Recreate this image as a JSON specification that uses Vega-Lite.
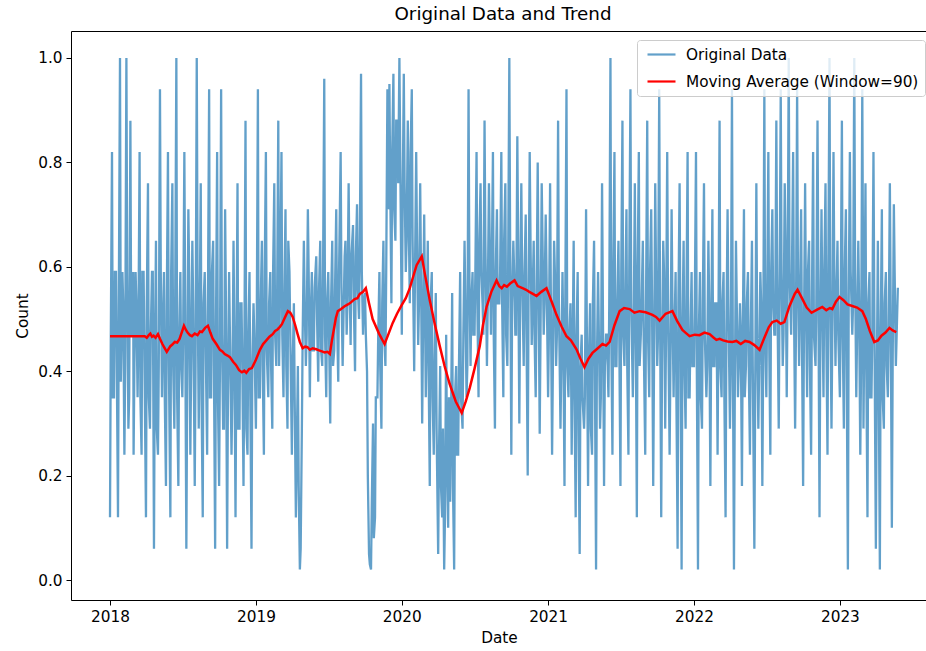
{
"$schema": "https://vega.github.io/schema/vega-lite/v6.json",
"width": 856,
"height": 569,
"autosize": {"type": "none"},
"padding": {"left": 71, "top": 31, "right": 0, "bottom": 51},
"background": "white",
"title": {"text": "Original Data and Trend", "fontSize": 18.3, "fontWeight": "normal", "font": "DejaVu Sans", "color": "#000", "anchor": "middle", "dx": 4, "offset": 7},
"config": {
  "view": {"stroke": "#000", "strokeWidth": 1},
  "axis": {"labelFont": "DejaVu Sans", "titleFont": "DejaVu Sans", "labelFontSize": 15.3, "titleFontSize": 15.3, "labelColor": "#000", "titleColor": "#000", "titleFontWeight": "normal", "tickColor": "#000", "tickSize": 5, "labelPadding": 4, "grid": false, "domain": false}
},
"datasets": {
"orig": [
{"date":"2018-01-01","count":0.12},{"date":"2018-01-06","count":0.82},{"date":"2018-01-11","count":0.35},{"date":"2018-01-16","count":0.59},{"date":"2018-01-21","count":0.12},{"date":"2018-01-26","count":1.0},
{"date":"2018-02-01","count":0.59},{"date":"2018-02-06","count":0.24},{"date":"2018-02-11","count":1.0},{"date":"2018-02-16","count":0.29},{"date":"2018-02-21","count":0.88},{"date":"2018-02-26","count":0.47},
{"date":"2018-03-01","count":0.24},{"date":"2018-03-06","count":0.59},{"date":"2018-03-11","count":0.35},{"date":"2018-03-16","count":0.82},{"date":"2018-03-21","count":0.24},{"date":"2018-03-26","count":0.59},
{"date":"2018-04-01","count":0.12},{"date":"2018-04-06","count":0.76},{"date":"2018-04-11","count":0.29},{"date":"2018-04-16","count":0.59},{"date":"2018-04-21","count":0.06},{"date":"2018-04-26","count":0.65},
{"date":"2018-05-01","count":0.24},{"date":"2018-05-06","count":0.94},{"date":"2018-05-11","count":0.35},{"date":"2018-05-16","count":0.59},{"date":"2018-05-21","count":0.18},{"date":"2018-05-26","count":0.82},
{"date":"2018-06-01","count":0.12},{"date":"2018-06-06","count":0.76},{"date":"2018-06-11","count":0.29},{"date":"2018-06-16","count":1.0},{"date":"2018-06-21","count":0.18},{"date":"2018-06-26","count":0.59},
{"date":"2018-07-01","count":0.35},{"date":"2018-07-06","count":0.82},{"date":"2018-07-11","count":0.06},{"date":"2018-07-16","count":0.71},{"date":"2018-07-21","count":0.24},{"date":"2018-07-26","count":0.65},
{"date":"2018-08-01","count":0.18},{"date":"2018-08-06","count":1.0},{"date":"2018-08-11","count":0.29},{"date":"2018-08-16","count":0.76},{"date":"2018-08-21","count":0.12},{"date":"2018-08-26","count":0.59},
{"date":"2018-09-01","count":0.24},{"date":"2018-09-06","count":0.94},{"date":"2018-09-11","count":0.35},{"date":"2018-09-16","count":0.65},{"date":"2018-09-21","count":0.06},{"date":"2018-09-26","count":0.82},
{"date":"2018-10-01","count":0.18},{"date":"2018-10-06","count":0.94},{"date":"2018-10-11","count":0.29},{"date":"2018-10-16","count":0.71},{"date":"2018-10-21","count":0.06},{"date":"2018-10-26","count":0.59},
{"date":"2018-11-01","count":0.24},{"date":"2018-11-06","count":0.65},{"date":"2018-11-11","count":0.12},{"date":"2018-11-16","count":0.76},{"date":"2018-11-21","count":0.29},{"date":"2018-11-26","count":0.53},
{"date":"2018-12-01","count":0.18},{"date":"2018-12-06","count":0.88},{"date":"2018-12-11","count":0.24},{"date":"2018-12-16","count":0.59},{"date":"2018-12-21","count":0.06},{"date":"2018-12-26","count":0.53},
{"date":"2019-01-01","count":0.29},{"date":"2019-01-06","count":0.94},{"date":"2019-01-11","count":0.35},{"date":"2019-01-16","count":0.65},{"date":"2019-01-21","count":0.24},{"date":"2019-01-26","count":0.82},
{"date":"2019-02-01","count":0.35},{"date":"2019-02-06","count":0.59},{"date":"2019-02-11","count":0.29},{"date":"2019-02-16","count":0.76},{"date":"2019-02-21","count":0.41},{"date":"2019-02-26","count":0.88},
{"date":"2019-03-01","count":0.47},{"date":"2019-03-06","count":0.82},{"date":"2019-03-11","count":0.35},{"date":"2019-03-16","count":0.71},{"date":"2019-03-21","count":0.29},{"date":"2019-03-26","count":0.59},
{"date":"2019-04-01","count":0.24},{"date":"2019-04-06","count":0.53},{"date":"2019-04-11","count":0.12},{"date":"2019-04-16","count":0.41},{"date":"2019-04-21","count":0.02},{"date":"2019-04-26","count":0.29},
{"date":"2019-05-01","count":0.65},{"date":"2019-05-06","count":0.41},{"date":"2019-05-11","count":0.71},{"date":"2019-05-16","count":0.35},{"date":"2019-05-21","count":0.59},{"date":"2019-05-26","count":0.44},
{"date":"2019-06-01","count":0.62},{"date":"2019-06-06","count":0.38},{"date":"2019-06-11","count":0.65},{"date":"2019-06-16","count":0.41},{"date":"2019-06-21","count":0.96},{"date":"2019-06-26","count":0.35},
{"date":"2019-07-01","count":0.59},{"date":"2019-07-06","count":0.30},{"date":"2019-07-11","count":0.65},{"date":"2019-07-16","count":0.44},{"date":"2019-07-21","count":0.71},{"date":"2019-07-26","count":0.38},
{"date":"2019-08-01","count":0.82},{"date":"2019-08-06","count":0.41},{"date":"2019-08-11","count":0.62},{"date":"2019-08-16","count":0.47},{"date":"2019-08-21","count":0.76},{"date":"2019-08-26","count":0.45},
{"date":"2019-09-01","count":0.68},{"date":"2019-09-06","count":0.40},{"date":"2019-09-11","count":0.72},{"date":"2019-09-16","count":0.50},{"date":"2019-09-21","count":0.97},{"date":"2019-09-26","count":0.47},
{"date":"2019-10-01","count":0.55},{"date":"2019-10-06","count":0.40},{"date":"2019-10-11","count":0.05},{"date":"2019-10-16","count":0.02},{"date":"2019-10-21","count":0.30},{"date":"2019-10-26","count":0.12},
{"date":"2019-11-01","count":0.35},{"date":"2019-11-06","count":0.59},{"date":"2019-11-11","count":0.29},{"date":"2019-11-16","count":0.65},{"date":"2019-11-21","count":0.41},{"date":"2019-11-26","count":0.94},
{"date":"2019-12-01","count":0.95},{"date":"2019-12-06","count":0.53},{"date":"2019-12-11","count":0.97},{"date":"2019-12-16","count":0.65},{"date":"2019-12-21","count":0.88},{"date":"2019-12-26","count":1.0},
{"date":"2020-01-01","count":0.47},{"date":"2020-01-06","count":0.97},{"date":"2020-01-11","count":0.59},{"date":"2020-01-16","count":0.88},{"date":"2020-01-21","count":0.53},{"date":"2020-01-26","count":0.94},
{"date":"2020-02-01","count":0.40},{"date":"2020-02-06","count":0.82},{"date":"2020-02-11","count":0.45},{"date":"2020-02-16","count":0.76},{"date":"2020-02-21","count":0.30},{"date":"2020-02-26","count":0.70},
{"date":"2020-03-01","count":0.35},{"date":"2020-03-06","count":0.65},{"date":"2020-03-11","count":0.18},{"date":"2020-03-16","count":0.59},{"date":"2020-03-21","count":0.24},{"date":"2020-03-26","count":0.55},
{"date":"2020-04-01","count":0.05},{"date":"2020-04-06","count":0.41},{"date":"2020-04-11","count":0.12},{"date":"2020-04-16","count":0.02},{"date":"2020-04-21","count":0.47},{"date":"2020-04-26","count":0.10},
{"date":"2020-05-01","count":0.15},{"date":"2020-05-06","count":0.55},{"date":"2020-05-11","count":0.02},{"date":"2020-05-16","count":0.41},{"date":"2020-05-21","count":0.24},{"date":"2020-05-26","count":0.59},
{"date":"2020-06-01","count":0.29},{"date":"2020-06-06","count":0.65},{"date":"2020-06-11","count":0.35},{"date":"2020-06-16","count":0.94},{"date":"2020-06-21","count":0.41},{"date":"2020-06-26","count":0.59},
{"date":"2020-07-01","count":0.47},{"date":"2020-07-06","count":0.82},{"date":"2020-07-11","count":0.35},{"date":"2020-07-16","count":0.76},{"date":"2020-07-21","count":0.53},{"date":"2020-07-26","count":0.88},
{"date":"2020-08-01","count":0.41},{"date":"2020-08-06","count":0.76},{"date":"2020-08-11","count":0.47},{"date":"2020-08-16","count":0.82},{"date":"2020-08-21","count":0.29},{"date":"2020-08-26","count":0.71},
{"date":"2020-09-01","count":0.53},{"date":"2020-09-06","count":0.82},{"date":"2020-09-11","count":0.35},{"date":"2020-09-16","count":0.76},{"date":"2020-09-21","count":0.41},{"date":"2020-09-26","count":1.0},
{"date":"2020-10-01","count":0.24},{"date":"2020-10-06","count":0.65},{"date":"2020-10-11","count":0.47},{"date":"2020-10-16","count":0.85},{"date":"2020-10-21","count":0.30},{"date":"2020-10-26","count":0.76},
{"date":"2020-11-01","count":0.41},{"date":"2020-11-06","count":0.70},{"date":"2020-11-11","count":0.20},{"date":"2020-11-16","count":0.82},{"date":"2020-11-21","count":0.45},{"date":"2020-11-26","count":0.65},
{"date":"2020-12-01","count":0.35},{"date":"2020-12-06","count":0.80},{"date":"2020-12-11","count":0.28},{"date":"2020-12-16","count":0.76},{"date":"2020-12-21","count":0.47},{"date":"2020-12-26","count":0.70},
{"date":"2021-01-01","count":0.35},{"date":"2021-01-06","count":0.76},{"date":"2021-01-11","count":0.24},{"date":"2021-01-16","count":0.65},{"date":"2021-01-21","count":0.41},{"date":"2021-01-26","count":0.88},
{"date":"2021-02-01","count":0.29},{"date":"2021-02-06","count":0.59},{"date":"2021-02-11","count":0.18},{"date":"2021-02-16","count":0.94},{"date":"2021-02-21","count":0.35},{"date":"2021-02-26","count":0.53},
{"date":"2021-03-01","count":0.24},{"date":"2021-03-06","count":0.65},{"date":"2021-03-11","count":0.12},{"date":"2021-03-16","count":0.59},{"date":"2021-03-21","count":0.05},{"date":"2021-03-26","count":0.47},
{"date":"2021-04-01","count":0.29},{"date":"2021-04-06","count":0.71},{"date":"2021-04-11","count":0.18},{"date":"2021-04-16","count":0.53},{"date":"2021-04-21","count":0.24},{"date":"2021-04-26","count":0.65},
{"date":"2021-05-01","count":0.02},{"date":"2021-05-06","count":0.59},{"date":"2021-05-11","count":0.29},{"date":"2021-05-16","count":0.76},{"date":"2021-05-21","count":0.18},{"date":"2021-05-26","count":0.47},
{"date":"2021-06-01","count":0.35},{"date":"2021-06-06","count":1.0},{"date":"2021-06-11","count":0.24},{"date":"2021-06-16","count":0.82},{"date":"2021-06-21","count":0.41},{"date":"2021-06-26","count":0.65},
{"date":"2021-07-01","count":0.18},{"date":"2021-07-06","count":0.88},{"date":"2021-07-11","count":0.41},{"date":"2021-07-16","count":0.71},{"date":"2021-07-21","count":0.24},{"date":"2021-07-26","count":0.94},
{"date":"2021-08-01","count":0.35},{"date":"2021-08-06","count":0.76},{"date":"2021-08-11","count":0.12},{"date":"2021-08-16","count":0.82},{"date":"2021-08-21","count":0.47},{"date":"2021-08-26","count":0.65},
{"date":"2021-09-01","count":0.24},{"date":"2021-09-06","count":0.88},{"date":"2021-09-11","count":0.35},{"date":"2021-09-16","count":0.71},{"date":"2021-09-21","count":0.18},{"date":"2021-09-26","count":0.76},
{"date":"2021-10-01","count":0.41},{"date":"2021-10-06","count":0.94},{"date":"2021-10-11","count":0.12},{"date":"2021-10-16","count":0.65},{"date":"2021-10-21","count":0.29},{"date":"2021-10-26","count":0.82},
{"date":"2021-11-01","count":0.24},{"date":"2021-11-06","count":0.71},{"date":"2021-11-11","count":0.35},{"date":"2021-11-16","count":0.59},{"date":"2021-11-21","count":0.06},{"date":"2021-11-26","count":0.76},
{"date":"2021-12-01","count":0.02},{"date":"2021-12-06","count":0.65},{"date":"2021-12-11","count":0.29},{"date":"2021-12-16","count":0.82},{"date":"2021-12-21","count":0.35},{"date":"2021-12-26","count":0.59},
{"date":"2022-01-01","count":0.41},{"date":"2022-01-06","count":0.82},{"date":"2022-01-11","count":0.02},{"date":"2022-01-16","count":0.59},{"date":"2022-01-21","count":0.29},{"date":"2022-01-26","count":0.76},
{"date":"2022-02-01","count":0.35},{"date":"2022-02-06","count":0.65},{"date":"2022-02-11","count":0.18},{"date":"2022-02-16","count":0.71},{"date":"2022-02-21","count":0.41},{"date":"2022-02-26","count":0.53},
{"date":"2022-03-01","count":0.24},{"date":"2022-03-06","count":0.88},{"date":"2022-03-11","count":0.35},{"date":"2022-03-16","count":0.59},{"date":"2022-03-21","count":0.12},{"date":"2022-03-26","count":0.71},
{"date":"2022-04-01","count":0.29},{"date":"2022-04-06","count":0.94},{"date":"2022-04-11","count":0.02},{"date":"2022-04-16","count":0.65},{"date":"2022-04-21","count":0.35},{"date":"2022-04-26","count":0.53},
{"date":"2022-05-01","count":0.18},{"date":"2022-05-06","count":0.71},{"date":"2022-05-11","count":0.41},{"date":"2022-05-16","count":0.59},{"date":"2022-05-21","count":0.24},{"date":"2022-05-26","count":0.65},
{"date":"2022-06-01","count":0.06},{"date":"2022-06-06","count":0.76},{"date":"2022-06-11","count":0.29},{"date":"2022-06-16","count":0.59},{"date":"2022-06-21","count":0.18},{"date":"2022-06-26","count":0.94},
{"date":"2022-07-01","count":0.35},{"date":"2022-07-06","count":0.82},{"date":"2022-07-11","count":0.24},{"date":"2022-07-16","count":0.71},{"date":"2022-07-21","count":0.47},{"date":"2022-07-26","count":0.88},
{"date":"2022-08-01","count":0.29},{"date":"2022-08-06","count":0.94},{"date":"2022-08-11","count":0.41},{"date":"2022-08-16","count":0.76},{"date":"2022-08-21","count":0.35},{"date":"2022-08-26","count":1.0},
{"date":"2022-09-01","count":0.47},{"date":"2022-09-06","count":0.82},{"date":"2022-09-11","count":0.29},{"date":"2022-09-16","count":0.94},{"date":"2022-09-21","count":0.41},{"date":"2022-09-26","count":0.71},
{"date":"2022-10-01","count":0.18},{"date":"2022-10-06","count":0.76},{"date":"2022-10-11","count":0.35},{"date":"2022-10-16","count":0.65},{"date":"2022-10-21","count":0.24},{"date":"2022-10-26","count":0.82},
{"date":"2022-11-01","count":0.41},{"date":"2022-11-06","count":0.88},{"date":"2022-11-11","count":0.12},{"date":"2022-11-16","count":0.71},{"date":"2022-11-21","count":0.35},{"date":"2022-11-26","count":0.76},
{"date":"2022-12-01","count":0.24},{"date":"2022-12-06","count":1.0},{"date":"2022-12-11","count":0.29},{"date":"2022-12-16","count":0.82},{"date":"2022-12-21","count":0.41},{"date":"2022-12-26","count":0.65},
{"date":"2023-01-01","count":0.35},{"date":"2023-01-06","count":0.88},{"date":"2023-01-11","count":0.29},{"date":"2023-01-16","count":0.71},{"date":"2023-01-21","count":0.02},{"date":"2023-01-26","count":0.82},
{"date":"2023-02-01","count":0.47},{"date":"2023-02-06","count":1.0},{"date":"2023-02-11","count":0.35},{"date":"2023-02-16","count":0.65},{"date":"2023-02-21","count":0.24},{"date":"2023-02-26","count":0.94},
{"date":"2023-03-01","count":0.29},{"date":"2023-03-06","count":0.76},{"date":"2023-03-11","count":0.12},{"date":"2023-03-16","count":0.59},{"date":"2023-03-21","count":0.35},{"date":"2023-03-26","count":0.82},
{"date":"2023-04-01","count":0.06},{"date":"2023-04-06","count":0.65},{"date":"2023-04-11","count":0.02},{"date":"2023-04-16","count":0.71},{"date":"2023-04-21","count":0.29},{"date":"2023-04-26","count":0.59},
{"date":"2023-05-01","count":0.35},{"date":"2023-05-06","count":0.76},{"date":"2023-05-11","count":0.10},{"date":"2023-05-16","count":0.72},{"date":"2023-05-21","count":0.41},{"date":"2023-05-26","count":0.56},
{"date":"2018-01-03","count":0.47},{"date":"2018-01-08","count":0.35},{"date":"2018-01-13","count":0.59},{"date":"2018-01-18","count":0.41},{"date":"2018-01-23","count":0.53},{"date":"2018-01-28","count":0.38},
{"date":"2018-02-03","count":0.53},{"date":"2018-02-08","count":0.41},{"date":"2018-02-13","count":0.59},{"date":"2018-02-18","count":0.35},{"date":"2018-02-23","count":0.47},{"date":"2018-02-28","count":0.59},
{"date":"2018-03-03","count":0.41},{"date":"2018-03-08","count":0.53},{"date":"2018-03-13","count":0.47},{"date":"2018-03-18","count":0.35},{"date":"2018-03-23","count":0.59},{"date":"2018-03-28","count":0.44},
{"date":"2018-04-03","count":0.53},{"date":"2018-04-08","count":0.35},{"date":"2018-04-13","count":0.47},{"date":"2018-04-18","count":0.59},{"date":"2018-04-23","count":0.41},{"date":"2018-04-28","count":0.29},
{"date":"2018-05-03","count":0.41},{"date":"2018-05-08","count":0.59},{"date":"2018-05-13","count":0.47},{"date":"2018-05-18","count":0.35},{"date":"2018-05-23","count":0.53},{"date":"2018-05-28","count":0.44},
{"date":"2018-06-03","count":0.59},{"date":"2018-06-08","count":0.41},{"date":"2018-06-13","count":0.53},{"date":"2018-06-18","count":0.35},{"date":"2018-06-23","count":0.47},{"date":"2018-06-28","count":0.41},
{"date":"2018-07-03","count":0.47},{"date":"2018-07-08","count":0.53},{"date":"2018-07-13","count":0.35},{"date":"2018-07-18","count":0.59},{"date":"2018-07-23","count":0.41},{"date":"2018-07-28","count":0.53},
{"date":"2018-08-03","count":0.41},{"date":"2018-08-08","count":0.59},{"date":"2018-08-13","count":0.47},{"date":"2018-08-18","count":0.35},{"date":"2018-08-23","count":0.53},{"date":"2018-08-28","count":0.47},
{"date":"2018-09-03","count":0.53},{"date":"2018-09-08","count":0.35},{"date":"2018-09-13","count":0.59},{"date":"2018-09-18","count":0.41},{"date":"2018-09-23","count":0.47},{"date":"2018-09-28","count":0.35},
{"date":"2018-10-03","count":0.41},{"date":"2018-10-08","count":0.47},{"date":"2018-10-13","count":0.29},{"date":"2018-10-18","count":0.53},{"date":"2018-10-23","count":0.35},{"date":"2018-10-28","count":0.47},
{"date":"2018-11-03","count":0.35},{"date":"2018-11-08","count":0.47},{"date":"2018-11-13","count":0.41},{"date":"2018-11-18","count":0.29},{"date":"2018-11-23","count":0.53},{"date":"2018-11-28","count":0.41},
{"date":"2018-12-03","count":0.41},{"date":"2018-12-08","count":0.29},{"date":"2018-12-13","count":0.47},{"date":"2018-12-18","count":0.35},{"date":"2018-12-23","count":0.41},{"date":"2018-12-28","count":0.47},
{"date":"2019-01-03","count":0.47},{"date":"2019-01-08","count":0.35},{"date":"2019-01-13","count":0.53},{"date":"2019-01-18","count":0.41},{"date":"2019-01-23","count":0.59},{"date":"2019-01-28","count":0.44},
{"date":"2019-02-03","count":0.53},{"date":"2019-02-08","count":0.41},{"date":"2019-02-13","count":0.59},{"date":"2019-02-18","count":0.47},{"date":"2019-02-23","count":0.53},{"date":"2019-02-28","count":0.41},
{"date":"2019-03-03","count":0.59},{"date":"2019-03-08","count":0.47},{"date":"2019-03-13","count":0.53},{"date":"2019-03-18","count":0.41},{"date":"2019-03-23","count":0.65},{"date":"2019-03-28","count":0.47},
{"date":"2019-04-03","count":0.41},{"date":"2019-04-08","count":0.35},{"date":"2019-04-13","count":0.24},{"date":"2019-04-18","count":0.18},{"date":"2019-04-23","count":0.06},{"date":"2019-04-28","count":0.47},
{"date":"2019-05-03","count":0.53},{"date":"2019-05-08","count":0.47},{"date":"2019-05-13","count":0.59},{"date":"2019-05-18","count":0.50},{"date":"2019-05-23","count":0.44},{"date":"2019-05-28","count":0.56},
{"date":"2019-06-03","count":0.50},{"date":"2019-06-08","count":0.56},{"date":"2019-06-13","count":0.44},{"date":"2019-06-18","count":0.59},{"date":"2019-06-23","count":0.47},{"date":"2019-06-28","count":0.53},
{"date":"2019-07-03","count":0.47},{"date":"2019-07-08","count":0.53},{"date":"2019-07-13","count":0.41},{"date":"2019-07-18","count":0.56},{"date":"2019-07-23","count":0.50},{"date":"2019-07-28","count":0.59},
{"date":"2019-08-03","count":0.56},{"date":"2019-08-08","count":0.50},{"date":"2019-08-13","count":0.65},{"date":"2019-08-18","count":0.53},{"date":"2019-08-23","count":0.59},{"date":"2019-08-28","count":0.62},
{"date":"2019-09-03","count":0.53},{"date":"2019-09-08","count":0.62},{"date":"2019-09-13","count":0.56},{"date":"2019-09-18","count":0.65},{"date":"2019-09-23","count":0.59},{"date":"2019-09-28","count":0.53},
{"date":"2019-10-03","count":0.47},{"date":"2019-10-08","count":0.20},{"date":"2019-10-13","count":0.03},{"date":"2019-10-18","count":0.15},{"date":"2019-10-23","count":0.08},{"date":"2019-10-28","count":0.35},
{"date":"2019-11-03","count":0.47},{"date":"2019-11-08","count":0.41},{"date":"2019-11-13","count":0.53},{"date":"2019-11-18","count":0.47},{"date":"2019-11-23","count":0.59},{"date":"2019-11-28","count":0.71},
{"date":"2019-12-03","count":0.76},{"date":"2019-12-08","count":0.82},{"date":"2019-12-13","count":0.71},{"date":"2019-12-18","count":0.88},{"date":"2019-12-23","count":0.76},{"date":"2019-12-28","count":0.82},
{"date":"2020-01-03","count":0.71},{"date":"2020-01-08","count":0.76},{"date":"2020-01-13","count":0.65},{"date":"2020-01-18","count":0.71},{"date":"2020-01-23","count":0.82},{"date":"2020-01-28","count":0.65},
{"date":"2020-02-03","count":0.59},{"date":"2020-02-08","count":0.65},{"date":"2020-02-13","count":0.53},{"date":"2020-02-18","count":0.59},{"date":"2020-02-23","count":0.47},{"date":"2020-02-28","count":0.53},
{"date":"2020-03-03","count":0.47},{"date":"2020-03-08","count":0.41},{"date":"2020-03-13","count":0.53},{"date":"2020-03-18","count":0.35},{"date":"2020-03-23","count":0.41},{"date":"2020-03-28","count":0.29},
{"date":"2020-04-03","count":0.24},{"date":"2020-04-08","count":0.18},{"date":"2020-04-13","count":0.29},{"date":"2020-04-18","count":0.12},{"date":"2020-04-23","count":0.24},{"date":"2020-04-28","count":0.35},
{"date":"2020-05-03","count":0.29},{"date":"2020-05-08","count":0.18},{"date":"2020-05-13","count":0.35},{"date":"2020-05-18","count":0.24},{"date":"2020-05-23","count":0.41},{"date":"2020-05-28","count":0.35},
{"date":"2020-06-03","count":0.47},{"date":"2020-06-08","count":0.53},{"date":"2020-06-13","count":0.41},{"date":"2020-06-18","count":0.59},{"date":"2020-06-23","count":0.53},{"date":"2020-06-28","count":0.47},
{"date":"2020-07-03","count":0.59},{"date":"2020-07-08","count":0.53},{"date":"2020-07-13","count":0.65},{"date":"2020-07-18","count":0.59},{"date":"2020-07-23","count":0.47},{"date":"2020-07-28","count":0.65},
{"date":"2020-08-03","count":0.53},{"date":"2020-08-08","count":0.65},{"date":"2020-08-13","count":0.59},{"date":"2020-08-18","count":0.47},{"date":"2020-08-23","count":0.59},{"date":"2020-08-28","count":0.53},
{"date":"2020-09-03","count":0.59},{"date":"2020-09-08","count":0.53},{"date":"2020-09-13","count":0.65},{"date":"2020-09-18","count":0.47},{"date":"2020-09-23","count":0.59},{"date":"2020-09-28","count":0.65},
{"date":"2020-10-03","count":0.53},{"date":"2020-10-08","count":0.59},{"date":"2020-10-13","count":0.47},{"date":"2020-10-18","count":0.65},{"date":"2020-10-23","count":0.53},{"date":"2020-10-28","count":0.59},
{"date":"2020-11-03","count":0.59},{"date":"2020-11-08","count":0.47},{"date":"2020-11-13","count":0.53},{"date":"2020-11-18","count":0.65},{"date":"2020-11-23","count":0.53},{"date":"2020-11-28","count":0.47},
{"date":"2020-12-03","count":0.53},{"date":"2020-12-08","count":0.59},{"date":"2020-12-13","count":0.47},{"date":"2020-12-18","count":0.65},{"date":"2020-12-23","count":0.53},{"date":"2020-12-28","count":0.59},
{"date":"2021-01-03","count":0.47},{"date":"2021-01-08","count":0.53},{"date":"2021-01-13","count":0.41},{"date":"2021-01-18","count":0.59},{"date":"2021-01-23","count":0.47},{"date":"2021-01-28","count":0.53},
{"date":"2021-02-03","count":0.41},{"date":"2021-02-08","count":0.47},{"date":"2021-02-13","count":0.53},{"date":"2021-02-18","count":0.41},{"date":"2021-02-23","count":0.47},{"date":"2021-02-28","count":0.35},
{"date":"2021-03-03","count":0.41},{"date":"2021-03-08","count":0.35},{"date":"2021-03-13","count":0.47},{"date":"2021-03-18","count":0.29},{"date":"2021-03-23","count":0.41},{"date":"2021-03-28","count":0.35},
{"date":"2021-04-03","count":0.35},{"date":"2021-04-08","count":0.47},{"date":"2021-04-13","count":0.41},{"date":"2021-04-18","count":0.29},{"date":"2021-04-23","count":0.53},{"date":"2021-04-28","count":0.41},
{"date":"2021-05-03","count":0.41},{"date":"2021-05-08","count":0.47},{"date":"2021-05-13","count":0.35},{"date":"2021-05-18","count":0.53},{"date":"2021-05-23","count":0.41},{"date":"2021-05-28","count":0.47},
{"date":"2021-06-03","count":0.53},{"date":"2021-06-08","count":0.47},{"date":"2021-06-13","count":0.59},{"date":"2021-06-18","count":0.41},{"date":"2021-06-23","count":0.53},{"date":"2021-06-28","count":0.47},
{"date":"2021-07-03","count":0.59},{"date":"2021-07-08","count":0.47},{"date":"2021-07-13","count":0.53},{"date":"2021-07-18","count":0.41},{"date":"2021-07-23","count":0.59},{"date":"2021-07-28","count":0.53},
{"date":"2021-08-03","count":0.47},{"date":"2021-08-08","count":0.53},{"date":"2021-08-13","count":0.59},{"date":"2021-08-18","count":0.41},{"date":"2021-08-23","count":0.53},{"date":"2021-08-28","count":0.47},
{"date":"2021-09-03","count":0.53},{"date":"2021-09-08","count":0.47},{"date":"2021-09-13","count":0.59},{"date":"2021-09-18","count":0.53},{"date":"2021-09-23","count":0.41},{"date":"2021-09-28","count":0.59},
{"date":"2021-10-03","count":0.47},{"date":"2021-10-08","count":0.53},{"date":"2021-10-13","count":0.41},{"date":"2021-10-18","count":0.59},{"date":"2021-10-23","count":0.47},{"date":"2021-10-28","count":0.53},
{"date":"2021-11-03","count":0.41},{"date":"2021-11-08","count":0.53},{"date":"2021-11-13","count":0.47},{"date":"2021-11-18","count":0.35},{"date":"2021-11-23","count":0.53},{"date":"2021-11-28","count":0.47},
{"date":"2021-12-03","count":0.47},{"date":"2021-12-08","count":0.41},{"date":"2021-12-13","count":0.53},{"date":"2021-12-18","count":0.35},{"date":"2021-12-23","count":0.47},{"date":"2021-12-28","count":0.41},
{"date":"2022-01-03","count":0.53},{"date":"2022-01-08","count":0.41},{"date":"2022-01-13","count":0.47},{"date":"2022-01-18","count":0.35},{"date":"2022-01-23","count":0.53},{"date":"2022-01-28","count":0.47},
{"date":"2022-02-03","count":0.41},{"date":"2022-02-08","count":0.53},{"date":"2022-02-13","count":0.47},{"date":"2022-02-18","count":0.41},{"date":"2022-02-23","count":0.53},{"date":"2022-02-28","count":0.35},
{"date":"2022-03-03","count":0.47},{"date":"2022-03-08","count":0.41},{"date":"2022-03-13","count":0.53},{"date":"2022-03-18","count":0.35},{"date":"2022-03-23","count":0.47},{"date":"2022-03-28","count":0.53},
{"date":"2022-04-03","count":0.41},{"date":"2022-04-08","count":0.47},{"date":"2022-04-13","count":0.35},{"date":"2022-04-18","count":0.53},{"date":"2022-04-23","count":0.41},{"date":"2022-04-28","count":0.47},
{"date":"2022-05-03","count":0.47},{"date":"2022-05-08","count":0.35},{"date":"2022-05-13","count":0.53},{"date":"2022-05-18","count":0.41},{"date":"2022-05-23","count":0.47},{"date":"2022-05-28","count":0.41},
{"date":"2022-06-03","count":0.35},{"date":"2022-06-08","count":0.47},{"date":"2022-06-13","count":0.41},{"date":"2022-06-18","count":0.53},{"date":"2022-06-23","count":0.41},{"date":"2022-06-28","count":0.47},
{"date":"2022-07-03","count":0.53},{"date":"2022-07-08","count":0.47},{"date":"2022-07-13","count":0.59},{"date":"2022-07-18","count":0.53},{"date":"2022-07-23","count":0.47},{"date":"2022-07-28","count":0.59},
{"date":"2022-08-03","count":0.53},{"date":"2022-08-08","count":0.59},{"date":"2022-08-13","count":0.47},{"date":"2022-08-18","count":0.65},{"date":"2022-08-23","count":0.53},{"date":"2022-08-28","count":0.59},
{"date":"2022-09-03","count":0.59},{"date":"2022-09-08","count":0.53},{"date":"2022-09-13","count":0.47},{"date":"2022-09-18","count":0.59},{"date":"2022-09-23","count":0.53},{"date":"2022-09-28","count":0.47},
{"date":"2022-10-03","count":0.47},{"date":"2022-10-08","count":0.53},{"date":"2022-10-13","count":0.59},{"date":"2022-10-18","count":0.41},{"date":"2022-10-23","count":0.53},{"date":"2022-10-28","count":0.47},
{"date":"2022-11-03","count":0.53},{"date":"2022-11-08","count":0.59},{"date":"2022-11-13","count":0.47},{"date":"2022-11-18","count":0.53},{"date":"2022-11-23","count":0.59},{"date":"2022-11-28","count":0.47},
{"date":"2022-12-03","count":0.59},{"date":"2022-12-08","count":0.53},{"date":"2022-12-13","count":0.47},{"date":"2022-12-18","count":0.59},{"date":"2022-12-23","count":0.53},{"date":"2022-12-28","count":0.47},
{"date":"2023-01-03","count":0.53},{"date":"2023-01-08","count":0.47},{"date":"2023-01-13","count":0.59},{"date":"2023-01-18","count":0.41},{"date":"2023-01-23","count":0.53},{"date":"2023-01-28","count":0.59},
{"date":"2023-02-03","count":0.53},{"date":"2023-02-08","count":0.59},{"date":"2023-02-13","count":0.47},{"date":"2023-02-18","count":0.53},{"date":"2023-02-23","count":0.41},{"date":"2023-02-28","count":0.59},
{"date":"2023-03-03","count":0.47},{"date":"2023-03-08","count":0.41},{"date":"2023-03-13","count":0.53},{"date":"2023-03-18","count":0.35},{"date":"2023-03-23","count":0.47},{"date":"2023-03-28","count":0.53},
{"date":"2023-04-03","count":0.35},{"date":"2023-04-08","count":0.41},{"date":"2023-04-13","count":0.47},{"date":"2023-04-18","count":0.35},{"date":"2023-04-23","count":0.53},{"date":"2023-04-28","count":0.41},
{"date":"2023-05-03","count":0.47},{"date":"2023-05-08","count":0.53},{"date":"2023-05-13","count":0.41},{"date":"2023-05-18","count":0.59},{"date":"2023-05-23","count":0.47}
],
"ma": [
{"date":"2018-01-01","count":0.467},{"date":"2018-03-29","count":0.467},{"date":"2018-04-03","count":0.464},{"date":"2018-04-08","count":0.469},{"date":"2018-04-12","count":0.472},{"date":"2018-04-16","count":0.466},{"date":"2018-04-20","count":0.468},{"date":"2018-04-25","count":0.464},{"date":"2018-05-01","count":0.471},{"date":"2018-05-06","count":0.462},{"date":"2018-05-12","count":0.452},{"date":"2018-05-17","count":0.445},{"date":"2018-05-23","count":0.437},{"date":"2018-06-01","count":0.448},{"date":"2018-06-06","count":0.451},{"date":"2018-06-12","count":0.456},{"date":"2018-06-18","count":0.455},{"date":"2018-06-24","count":0.462},{"date":"2018-07-05","count":0.487},{"date":"2018-07-10","count":0.479},{"date":"2018-07-14","count":0.474},{"date":"2018-07-20","count":0.469},{"date":"2018-07-25","count":0.467},{"date":"2018-08-01","count":0.472},{"date":"2018-08-08","count":0.469},{"date":"2018-08-14","count":0.476},{"date":"2018-08-19","count":0.475},{"date":"2018-08-27","count":0.483},{"date":"2018-09-03","count":0.487},{"date":"2018-09-09","count":0.474},{"date":"2018-09-15","count":0.462},{"date":"2018-09-24","count":0.452},{"date":"2018-10-03","count":0.441},{"date":"2018-10-09","count":0.438},{"date":"2018-10-15","count":0.433},{"date":"2018-10-22","count":0.430},{"date":"2018-10-28","count":0.427},{"date":"2018-11-05","count":0.418},{"date":"2018-11-12","count":0.412},{"date":"2018-11-20","count":0.402},{"date":"2018-11-27","count":0.398},{"date":"2018-12-03","count":0.401},{"date":"2018-12-08","count":0.397},{"date":"2018-12-15","count":0.404},{"date":"2018-12-22","count":0.406},
{"date":"2019-01-01","count":0.422},{"date":"2019-01-11","count":0.441},{"date":"2019-01-19","count":0.452},{"date":"2019-01-26","count":0.458},{"date":"2019-02-04","count":0.466},{"date":"2019-02-12","count":0.471},{"date":"2019-02-18","count":0.477},{"date":"2019-02-24","count":0.480},{"date":"2019-03-02","count":0.485},{"date":"2019-03-07","count":0.490},{"date":"2019-03-14","count":0.502},{"date":"2019-03-22","count":0.515},{"date":"2019-03-28","count":0.512},{"date":"2019-04-03","count":0.504},{"date":"2019-04-09","count":0.489},{"date":"2019-04-15","count":0.472},{"date":"2019-04-21","count":0.456},{"date":"2019-04-28","count":0.444},{"date":"2019-05-04","count":0.447},{"date":"2019-05-10","count":0.446},{"date":"2019-05-16","count":0.441},{"date":"2019-05-23","count":0.444},{"date":"2019-06-01","count":0.442},{"date":"2019-06-08","count":0.440},{"date":"2019-06-15","count":0.438},{"date":"2019-06-22","count":0.436},{"date":"2019-06-29","count":0.437},{"date":"2019-07-05","count":0.433},{"date":"2019-07-10","count":0.458},{"date":"2019-07-15","count":0.480},{"date":"2019-07-20","count":0.502},{"date":"2019-07-25","count":0.515},{"date":"2019-08-02","count":0.519},{"date":"2019-08-10","count":0.524},{"date":"2019-08-17","count":0.527},{"date":"2019-08-24","count":0.530},{"date":"2019-09-05","count":0.538},{"date":"2019-09-12","count":0.540},{"date":"2019-09-18","count":0.548},{"date":"2019-09-26","count":0.552},{"date":"2019-10-03","count":0.559},{"date":"2019-10-11","count":0.530},{"date":"2019-10-20","count":0.500},{"date":"2019-11-05","count":0.472},{"date":"2019-11-19","count":0.452},{"date":"2019-11-29","count":0.472},{"date":"2019-12-09","count":0.492},{"date":"2019-12-20","count":0.510},
{"date":"2020-01-01","count":0.527},{"date":"2020-01-11","count":0.540},{"date":"2020-01-21","count":0.559},{"date":"2020-01-29","count":0.580},{"date":"2020-02-07","count":0.603},{"date":"2020-02-20","count":0.620},{"date":"2020-02-28","count":0.585},{"date":"2020-03-11","count":0.536},{"date":"2020-03-23","count":0.492},{"date":"2020-04-05","count":0.448},{"date":"2020-04-17","count":0.410},{"date":"2020-04-30","count":0.375},{"date":"2020-05-15","count":0.342},{"date":"2020-05-30","count":0.320},{"date":"2020-06-09","count":0.342},{"date":"2020-06-19","count":0.368},{"date":"2020-07-01","count":0.405},{"date":"2020-07-14","count":0.448},{"date":"2020-07-22","count":0.488},{"date":"2020-07-31","count":0.523},{"date":"2020-08-12","count":0.552},{"date":"2020-08-25","count":0.574},{"date":"2020-09-01","count":0.563},{"date":"2020-09-07","count":0.559},{"date":"2020-09-13","count":0.565},{"date":"2020-09-20","count":0.562},{"date":"2020-09-28","count":0.568},{"date":"2020-10-09","count":0.574},{"date":"2020-10-17","count":0.563},{"date":"2020-10-29","count":0.559},{"date":"2020-11-07","count":0.556},{"date":"2020-11-15","count":0.552},{"date":"2020-11-24","count":0.548},{"date":"2020-12-03","count":0.544},{"date":"2020-12-15","count":0.552},{"date":"2020-12-28","count":0.559},
{"date":"2021-01-10","count":0.533},{"date":"2021-01-22","count":0.508},{"date":"2021-02-04","count":0.485},{"date":"2021-02-16","count":0.467},{"date":"2021-02-27","count":0.459},{"date":"2021-03-13","count":0.442},{"date":"2021-03-23","count":0.424},{"date":"2021-04-02","count":0.408},{"date":"2021-04-12","count":0.424},{"date":"2021-04-22","count":0.435},{"date":"2021-05-04","count":0.443},{"date":"2021-05-17","count":0.452},{"date":"2021-05-26","count":0.449},{"date":"2021-06-04","count":0.456},{"date":"2021-06-16","count":0.488},{"date":"2021-06-29","count":0.515},{"date":"2021-07-10","count":0.521},{"date":"2021-07-24","count":0.519},{"date":"2021-08-05","count":0.512},{"date":"2021-08-18","count":0.515},{"date":"2021-09-02","count":0.513},{"date":"2021-09-19","count":0.508},{"date":"2021-09-28","count":0.504},{"date":"2021-10-07","count":0.497},{"date":"2021-10-22","count":0.510},{"date":"2021-11-08","count":0.515},{"date":"2021-11-20","count":0.496},{"date":"2021-12-03","count":0.479},{"date":"2021-12-12","count":0.473},{"date":"2021-12-21","count":0.467},
{"date":"2022-01-03","count":0.470},{"date":"2022-01-15","count":0.469},{"date":"2022-01-27","count":0.474},{"date":"2022-02-09","count":0.471},{"date":"2022-02-18","count":0.465},{"date":"2022-02-26","count":0.460},{"date":"2022-03-06","count":0.462},{"date":"2022-03-15","count":0.459},{"date":"2022-03-26","count":0.457},{"date":"2022-04-07","count":0.456},{"date":"2022-04-17","count":0.458},{"date":"2022-04-28","count":0.452},{"date":"2022-05-09","count":0.458},{"date":"2022-05-20","count":0.456},{"date":"2022-06-01","count":0.450},{"date":"2022-06-14","count":0.441},{"date":"2022-06-25","count":0.462},{"date":"2022-07-07","count":0.484},{"date":"2022-07-16","count":0.494},{"date":"2022-07-27","count":0.497},{"date":"2022-08-06","count":0.491},{"date":"2022-08-15","count":0.494},{"date":"2022-08-28","count":0.525},{"date":"2022-09-10","count":0.548},{"date":"2022-09-17","count":0.556},{"date":"2022-09-28","count":0.540},{"date":"2022-10-10","count":0.522},{"date":"2022-10-22","count":0.512},{"date":"2022-11-05","count":0.518},{"date":"2022-11-18","count":0.523},{"date":"2022-11-28","count":0.517},{"date":"2022-12-07","count":0.521},{"date":"2022-12-13","count":0.519},{"date":"2022-12-22","count":0.533},{"date":"2022-12-31","count":0.542},
{"date":"2023-01-10","count":0.536},{"date":"2023-01-20","count":0.528},{"date":"2023-02-01","count":0.525},{"date":"2023-02-13","count":0.522},{"date":"2023-02-26","count":0.515},{"date":"2023-03-07","count":0.500},{"date":"2023-03-17","count":0.477},{"date":"2023-03-28","count":0.456},{"date":"2023-04-06","count":0.459},{"date":"2023-04-15","count":0.468},{"date":"2023-04-25","count":0.474},{"date":"2023-05-05","count":0.483},{"date":"2023-05-13","count":0.478},{"date":"2023-05-22","count":0.475}
]
},
"encoding": {
  "x": {"field": "date", "type": "temporal",
        "scale": {"type": "utc", "domain": [{"year": 2017, "month": 9, "date": 25, "hours": 10, "utc": true}, {"year": 2023, "month": 8, "date": 6, "hours": 22, "utc": true}]},
        "axis": {"title": "Date", "values": [{"year": 2018, "utc": true}, {"year": 2019, "utc": true}, {"year": 2020, "utc": true}, {"year": 2021, "utc": true}, {"year": 2022, "utc": true}, {"year": 2023, "utc": true}], "format": "%Y", "formatType": "utc", "labelAngle": 0, "labelFlush": false, "labelOverlap": false, "titlePadding": 6}},
  "y": {"field": "count", "type": "quantitative",
        "scale": {"domain": [-0.0383, 1.0517], "nice": false, "zero": false},
        "axis": {"title": "Count", "values": [0, 0.2, 0.4, 0.6, 0.8, 1.0], "format": ".1f", "titlePadding": 7}}
},
"layer": [
  {"data": {"name": "orig"}, "mark": {"type": "line", "strokeWidth": 2.3, "clip": true},
   "encoding": {"color": {"datum": "Original Data", "type": "nominal",
      "scale": {"domain": ["Original Data", "Moving Average (Window=90)"], "range": ["#62a0ca", "#ff0000"]},
      "legend": {"title": null, "orient": "none", "legendX": 566, "legendY": 9, "symbolType": "M-2,0H2", "symbolSize": 196, "symbolStrokeWidth": 2.2, "symbolOffset": 10, "labelFont": "DejaVu Sans", "labelFontSize": 15.3, "labelColor": "#000", "fillColor": "rgba(255,255,255,0.8)", "strokeColor": "#cccccc", "cornerRadius": 3, "padding": 6, "rowPadding": 10, "labelOffset": 16, "labelLimit": 400}}}},
  {"data": {"name": "ma"}, "mark": {"type": "line", "strokeWidth": 2.5, "clip": true},
   "encoding": {"color": {"datum": "Moving Average (Window=90)", "type": "nominal"}}}
]
}
